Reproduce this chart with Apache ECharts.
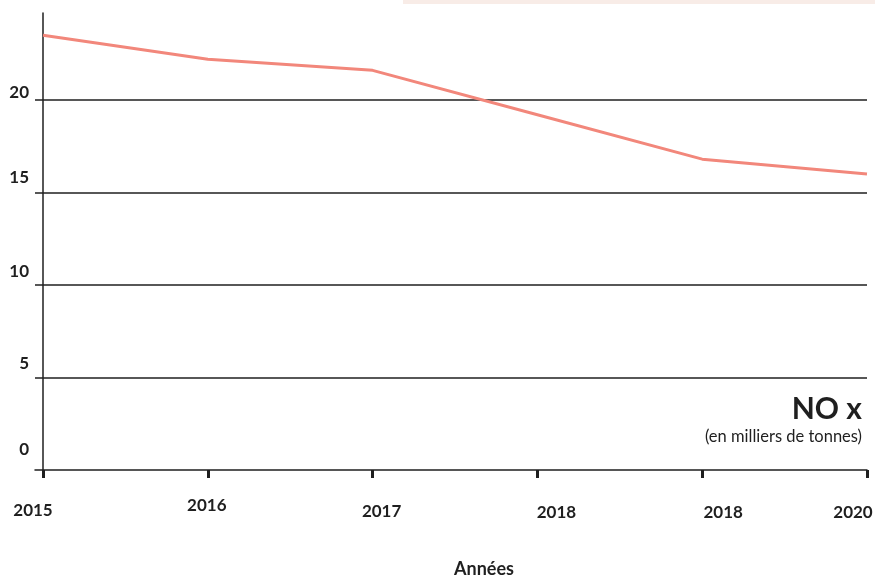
<!DOCTYPE html>
<html>
<head>
<meta charset="utf-8">
<script src="https://cdn.jsdelivr.net/npm/echarts@6/dist/echarts.min.js"></script>
<style>
  html, body { margin: 0; padding: 0; background: #fff; }
  #chart { width: 875px; height: 577px; }
</style>
</head>
<body>
<div id="chart"></div>
<script>
// Émissions de NOx, en milliers de tonnes
const years = ['2015', '2016', '2017', '2018', '2018', '2020'];
const noxValues = [23.5, 22.2, 21.6, 19.2, 16.8, 16.0];
const yTicks = [0, 5, 10, 15, 20];

const FONT = 'Lato, "Noto Sans", sans-serif';
const INK = '#1f1f1f';

// per-label nudges for the year labels (padding: top, right, bottom, left)
const yearLabelPad = [
  [5, 20, 0, 0],
  [0, 2, 0, 0],
  [6, 0, 0, 18],
  [7, 0, 0, 38],
  [7, 0, 0, 42],
  [7, 28, 0, 0]
];
// per-label lift for the value labels
const valueLabelLift = { 0: 29, 5: 16, 10: 15, 15: 18, 20: 3 };

const yearRich = {};
yearLabelPad.forEach((p, i) => {
  yearRich['l' + i] = { fontFamily: FONT, fontWeight: 'bold', fontSize: 17, color: INK, padding: p };
});
const valueRich = {};
yTicks.forEach(v => {
  valueRich['v' + v] = {
    fontFamily: FONT, fontWeight: 'bold', fontSize: 17, lineHeight: 12, color: INK,
    padding: [0, 0, valueLabelLift[v], 0]
  };
});

const chart = echarts.init(document.getElementById('chart'), null, { renderer: 'canvas' });

const Y_MAX = 24.7;

chart.setOption({
  animation: false,
  backgroundColor: '#ffffff',
  grid: [
    // grid 0: horizontal rules and baseline, slightly wider on the left
    { left: 35, right: 8, top: 13, bottom: 107, outerBoundsMode: 'none', containLabel: false },
    // grid 1: the plotted series with its axes
    { left: 43, right: 8, top: 13, bottom: 107, outerBoundsMode: 'none', containLabel: false }
  ],
  xAxis: [
    {
      gridIndex: 0, type: 'value', min: 0, max: 1,
      axisLine: { show: true, lineStyle: { color: INK, width: 1.5 } },
      axisTick: { show: false }, axisLabel: { show: false }, splitLine: { show: false }
    },
    {
      gridIndex: 1, type: 'category', data: years, boundaryGap: false,
      axisLine: { show: false },
      axisTick: { show: true, alignWithLabel: true, length: 8, lineStyle: { color: INK, width: 3 } },
      axisLabel: {
        margin: 27,
        formatter: (value, index) => '{l' + index + '|' + value + '}',
        rich: yearRich
      },
      splitLine: { show: false },
      name: 'Années',
      nameLocation: 'middle',
      nameGap: 90,
      nameTextStyle: { fontFamily: FONT, fontWeight: 'bold', fontSize: 18, color: INK, padding: [0, 0, 0, 58] }
    }
  ],
  yAxis: [
    {
      gridIndex: 0, type: 'value', min: 0, max: Y_MAX, interval: 5,
      axisLine: { show: false }, axisTick: { show: false }, axisLabel: { show: false },
      splitLine: { show: true, showMinLine: false, showMaxLine: false, lineStyle: { color: INK, width: 1.5 } }
    },
    {
      gridIndex: 1, type: 'value', min: 0, max: Y_MAX, interval: 5,
      axisLine: { show: true, onZero: false, lineStyle: { color: INK, width: 1.5 } },
      axisTick: { show: false },
      splitLine: { show: false },
      axisLabel: {
        showMaxLabel: false,
        margin: 14,
        verticalAlign: 'bottom',
        formatter: v => '{v' + v + '|' + v + '}',
        rich: valueRich
      }
    }
  ],
  series: [
    {
      type: 'line',
      xAxisIndex: 1,
      yAxisIndex: 1,
      data: noxValues,
      symbol: 'none',
      lineStyle: { color: '#f2877b', width: 3 },
      z: 5
    }
  ],
  graphic: [
    {
      type: 'rect',
      shape: { x: 403, y: 0, width: 472, height: 4 },
      style: { fill: '#f8ece7' },
      silent: true
    },
    {
      type: 'text',
      right: 13,
      top: 394,
      style: { text: 'NO x', font: 'bold 30px ' + FONT, fill: INK, textAlign: 'right' }
    },
    {
      type: 'text',
      right: 13,
      top: 428,
      style: { text: '(en milliers de tonnes)', font: '16.5px ' + FONT, fill: INK, textAlign: 'right' }
    }
  ]
});
</script>
</body>
</html>
